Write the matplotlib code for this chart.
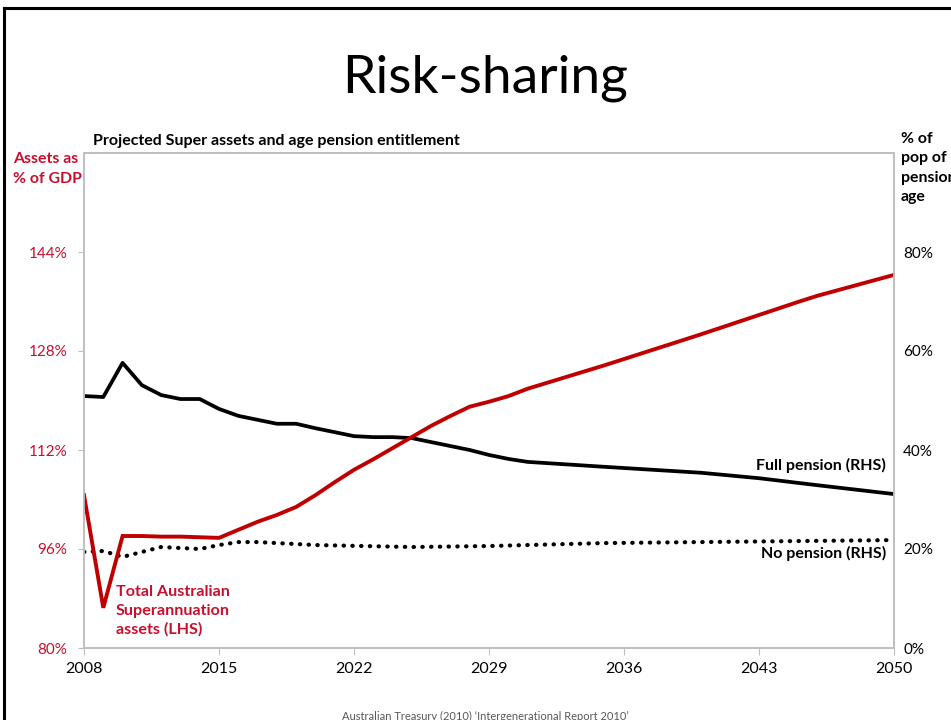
import matplotlib
matplotlib.use("Agg")
import matplotlib.pyplot as plt
from matplotlib.lines import Line2D

# Total Australian Superannuation assets, % of GDP (LHS)
super_years = [2008, 2009, 2010, 2011, 2012, 2013, 2014, 2015, 2016, 2017, 2018, 2019,
               2020, 2021, 2022, 2023, 2024, 2025, 2026, 2027, 2028, 2029, 2030, 2031,
               2035, 2040, 2045, 2046, 2050]
super_assets = [104.7, 86.5, 98.1, 98.1, 98.0, 98.0, 97.9, 97.8, 99.1, 100.4, 101.5, 102.8,
                104.7, 106.8, 108.8, 110.5, 112.3, 114.1, 115.9, 117.5, 119.0, 119.8, 120.7, 121.9,
                125.7, 130.7, 135.9, 136.9, 140.3]

# Full pension, % of pension-age population (RHS)
full_years = [2008, 2009, 2010, 2011, 2012, 2013, 2014, 2015, 2016, 2017, 2018, 2019,
              2020, 2021, 2022, 2023, 2024, 2025, 2026, 2027, 2028, 2029, 2030, 2031,
              2035, 2040, 2043, 2046, 2050]
full_pension = [50.9, 50.7, 57.6, 53.1, 51.1, 50.3, 50.3, 48.3, 46.9, 46.1, 45.3, 45.3,
                44.4, 43.6, 42.8, 42.6, 42.6, 42.4, 41.6, 40.8, 40.0, 39.0, 38.2, 37.6,
                36.6, 35.4, 34.3, 32.9, 31.1]

# No pension, % of pension-age population (RHS)
no_years = [2008, 2009, 2010, 2011, 2012, 2013, 2014, 2015, 2016, 2017, 2018, 2020,
            2025, 2029, 2035, 2040, 2045, 2050]
no_pension = [19.4, 19.6, 18.4, 19.4, 20.4, 20.2, 20.0, 20.8, 21.4, 21.4, 21.2, 20.8,
              20.4, 20.6, 21.2, 21.4, 21.6, 21.8]

x_ticks = [2008, 2015, 2022, 2029, 2036, 2043, 2050]
left_ticks = [80, 96, 112, 128, 144]
right_ticks = [0, 20, 40, 60, 80]

RED_LINE = '#C00000'
RED_TXT = '#C8102E'
GRID = '#BFBFBF'

plt.rcParams['font.family'] = ['Lato', 'DejaVu Sans']

fig = plt.figure(figsize=(9.51, 7.2), dpi=100)
ax1 = fig.add_axes([84/951, 1-648/720, (894-84)/951, (648-153)/720])
ax2 = ax1.twinx()

ax2.plot(full_years, full_pension, color='black', lw=2.7, solid_joinstyle='round')
ax2.plot(no_years, no_pension, color='black', lw=3.0, linestyle=(0, (0.1, 2.0)),
         dash_capstyle='round')
ax1.plot(super_years, super_assets, color=RED_LINE, lw=2.8, solid_joinstyle='miter')

# red series drawn above the RHS lines
ax1.set_zorder(ax2.get_zorder() + 1)
ax1.patch.set_visible(False)

ax1.set_xlim(2008, 2050)
ax1.set_ylim(80, 160)
ax2.set_ylim(0, 100)
ax1.set_xticks(x_ticks)
ax1.set_yticks(left_ticks)
ax1.set_yticklabels([f'{v}%' for v in left_ticks], color=RED_TXT)
ax2.set_yticks(right_ticks)
ax2.set_yticklabels([f'{v}%' for v in right_ticks])

for ax in (ax1, ax2):
    for s in ax.spines.values():
        s.set_color(GRID)
        s.set_linewidth(1.2)
ax1.tick_params(axis='y', length=4, color=GRID, pad=8, labelsize=11)
ax1.tick_params(axis='x', length=5, color=GRID, pad=5, labelsize=11.5)
ax2.tick_params(axis='y', length=0, pad=6.5, labelsize=11)

fig.text(485/951, 1-78/720, 'Risk-sharing', ha='center', va='center', fontsize=38.5)
fig.text(93/951, 1-141/720, 'Projected Super assets and age pension entitlement',
         ha='left', va='center', fontsize=11.5, fontweight='bold')
fig.text(13/951, 1-169/720, 'Assets as\n% of GDP', ha='left', va='center',
         fontsize=11.4, fontweight='bold', color=RED_TXT, linespacing=1.5)
fig.text(901/951, 1-168/720, '% of\npop of\npension\nage', ha='left', va='center',
         fontsize=11.4, fontweight='bold', linespacing=1.5)

fig.text(886/951, 1-465/720, 'Full pension (RHS)', ha='right', va='center',
         fontsize=11.5, fontweight='bold')
fig.text(886/951, 1-553/720, 'No pension (RHS)', ha='right', va='center',
         fontsize=11.5, fontweight='bold')
fig.text(116/951, 1-611/720, 'Total Australian\nSuperannuation\nassets (LHS)',
         ha='left', va='center', fontsize=11.6, fontweight='bold', color=RED_TXT,
         linespacing=1.4)

fig.text(485/951, 1-716/720, 'Australian Treasury (2010) \u2018Intergenerational Report 2010\u2019',
         ha='center', va='center', fontsize=8, color='#595959')

# slide border
fig.add_artist(Line2D([4/951, 4/951], [0, 1-8/720], color='black', lw=2.2,
                      transform=fig.transFigure))
fig.add_artist(Line2D([4/951, 1], [1-8/720, 1-8/720], color='black', lw=2.2,
                      transform=fig.transFigure))

fig.savefig('out.png', dpi=100)
